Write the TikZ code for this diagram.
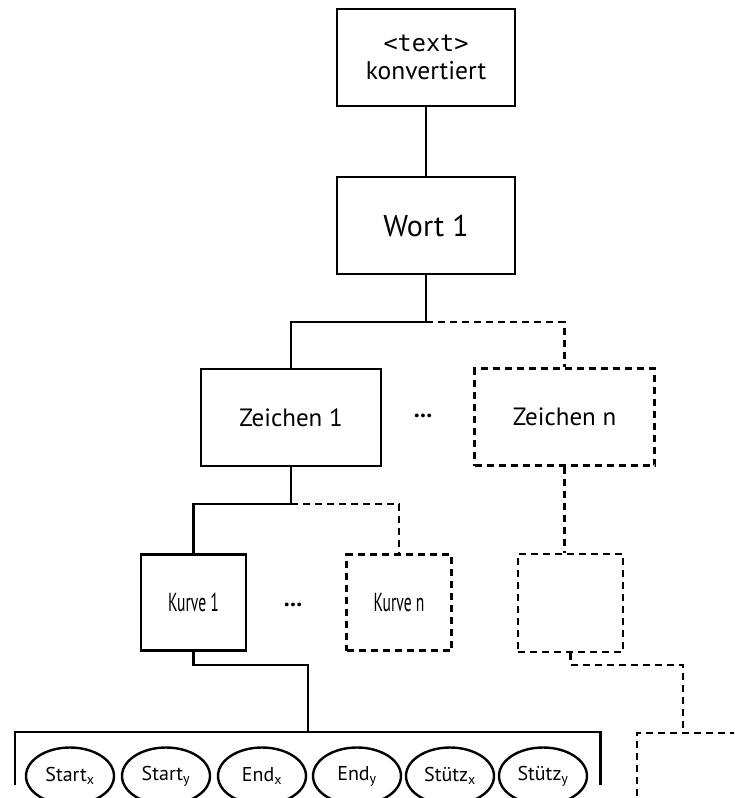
\documentclass[tikz,border=0pt]{standalone}
\usepackage{fontspec}
\setmainfont{PT Sans}
\newfontfamily\codefont{DejaVu Sans Mono}
\newfontfamily\narrowfont{PT Sans}[FakeStretch=0.6]
\usetikzlibrary{calc,shapes.geometric}

\begin{document}
\begin{tikzpicture}[x=1pt,y=-1pt,
  link/.style={line width=2.4pt},
  dlink/.style={line width=2.4pt, dash pattern=on 7pt off 5pt},
  box/.style={draw, line width=2.4pt, rectangle, inner sep=0pt, align=center},
  bigbox/.style={box, minimum width=178pt, minimum height=97pt},
  midbox/.style={box, minimum width=180pt, minimum height=97pt, font=\fontsize{25}{30}\selectfont},
  smallbox/.style={box, minimum width=105pt, minimum height=96pt, font=\narrowfont\fontsize{26}{30}\selectfont},
  ghost/.style={dash pattern=on 7pt off 5pt},
  param/.style={draw, line width=2.4pt, ellipse, inner sep=0pt, minimum width=88pt, minimum height=57pt, font=\fontsize{20}{24}\selectfont},
  dots/.style={inner sep=0pt, font=\bfseries\fontsize{24}{28}\selectfont}]
  \useasboundingbox (0,0) rectangle (734,798);
  \clip (0,0) rectangle (734,798);

  % tree levels
  \node[bigbox, font=\fontsize{25.5}{28}\selectfont] (root) at (426,57.5) {{\codefont\fontsize{23.5}{28}\selectfont <text>}\\konvertiert};
  \node[bigbox, font=\fontsize{30}{36}\selectfont] (word) at (426,225.5) {Wort 1};

  \node[midbox] (char1) at (291,417.5) {Zeichen 1};
  \node[midbox, ghost] (charn) at (564.5,417) {Zeichen n};
  \node[dots] (cdots) at (423,416) {...};

  \node[smallbox] (curve1) at (193.5,602.5) {Kurve 1};
  \node[smallbox, ghost] (curven) at (399,602.5) {Kurve n};
  \node[dots] (kdots) at (293,605) {...};
  \node[smallbox, ghost, minimum height=98pt] (curvex) at (570.5,603) {};

  % parameter group of the first curve
  \node[inner sep=0pt, minimum width=585pt, minimum height=53pt, anchor=north west] (params) at (15,732) {};
  \draw[link] ($(params.north west)+(0,53)$) -- (params.north west) -- (params.north east) -- ++(0,53);
  \node[param] (sx) at (70,776) {Start\textsubscript{x}};
  \node[param] (sy) at (166,776) {Start\textsubscript{y}};
  \node[param] (ex) at (262,776) {End\textsubscript{x}};
  \node[param] (ey) at (357,776) {End\textsubscript{y}};
  \node[param] (hx) at (450,776) {Stütz\textsubscript{x}};
  \node[param] (hy) at (543,776) {Stütz\textsubscript{y}};

  % further group, cut at the edge
  \node[box, ghost, minimum width=200pt, minimum height=120pt, anchor=north west] (groupx) at (636,732) {};

  % connectors
  \draw[link] (root.south) -- (word.north);
  \coordinate (j1) at ($(word.south)+(0,47)$);
  \draw[link] (word.south) -- (j1) -| (char1.north);
  \draw[dlink] (j1) -| (charn.north);

  \coordinate (j2) at ($(char1.south)+(0,37)$);
  \draw[link] (char1.south) -- (j2) -| (curve1.north);
  \draw[dlink] (j2) -| (curven.north);
  \draw[dlink] (charn.south) -- (charn.south |- curvex.north);

  \draw[link] (curve1.south) -- ++(0,13) -| (params.north);
  \draw[dlink] (curvex.south) -- ++(0,12) -| ($(groupx.north west)+(47,0)$);
\end{tikzpicture}
\end{document}
